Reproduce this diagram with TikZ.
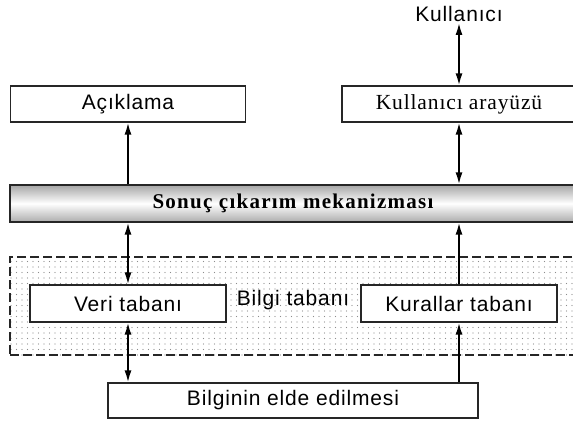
\documentclass[tikz,border=0pt]{standalone}
\usepackage{fontspec}
\setmainfont{Liberation Sans}
\newfontfamily\labelsans[LetterSpace=4]{Liberation Sans}
\newfontfamily\labelserif[LetterSpace=4]{Liberation Serif}
\newfontfamily\labelbold[LetterSpace=6]{Liberation Serif}
\usetikzlibrary{arrows.meta, patterns.meta}

\begin{document}
\begin{tikzpicture}[
    x=1pt, y=-1pt,
    box/.style={rectangle, align=center, draw=black!85, line width=1.2pt, fill=white, minimum height=36pt, inner sep=0pt, font=\labelsans\fontsize{21}{23}\selectfont},
    box_serif/.style={box, font=\labelserif\fontsize{21.5}{23}\selectfont},
    engine_bar/.style={rectangle, align=center, draw=black!85, line width=1.2pt, minimum height=37pt, inner sep=0pt, top color=gray!70, bottom color=gray!65, middle color=white, font=\labelbold\bfseries\fontsize{21}{23}\selectfont},
    kb_area/.style={rectangle, draw=black!85, line width=1.4pt, dash pattern=on 9pt off 4pt, pattern={Dots[distance=5.5pt, radius=0.7pt]}, pattern color=gray!90, inner sep=0pt},
    plain_label/.style={font=\labelsans\fontsize{21}{23}\selectfont, inner sep=1pt},
    arr/.style={line width=1.8pt, -{Latex[length=12pt, width=7pt]}},
    both/.style={line width=1.8pt, {Latex[length=12pt, width=7pt]}-{Latex[length=12pt, width=7pt]}},
]
    \clip (0, 0) rectangle (573, 421);
    \fill[white] (0, 0) rectangle (573, 421);

    \node(user)[plain_label] at (459, 14) {Kullanıcı};
    \node(expl)[box, minimum width=235pt] at (128, 104) {Açıklama};
    \node(ui)[box_serif, minimum width=234pt] at (459, 104) {Kullanıcı arayüzü};

    \node(engine)[engine_bar, minimum width=566pt] at (293, 203.5) {Sonuç çıkarım mekanizması};

    \node(kb)[kb_area, minimum width=570pt, minimum height=98pt] at (295, 306) {};
    \node(data)[box, minimum width=196pt, minimum height=37pt] at (128, 303.5) {Veri tabanı};
    \node(rules)[box, minimum width=196pt, minimum height=37pt] at (459, 303.5) {Kurallar tabanı};
    \node(kb_label)[plain_label, inner sep=0pt] at (293, 300) {Bilgi tabanı};

    \node(acq)[box, minimum width=370pt, minimum height=35pt] at (293, 400.5) {Bilginin elde edilmesi};

    \draw[both] (user) -- (ui.north);
    \draw[arr] (engine.north -| expl.south) -- (expl.south);
    \draw[both] (engine.north -| ui.south) -- (ui.south);
    \draw[both] (engine.south -| data.north) -- (data.north);
    \draw[arr] (rules.north) -- (engine.south -| rules.north);
    \draw[both] (data.south) -- (acq.north -| data.south);
    \draw[arr] (acq.north -| rules.south) -- (rules.south);
\end{tikzpicture}
\end{document}
